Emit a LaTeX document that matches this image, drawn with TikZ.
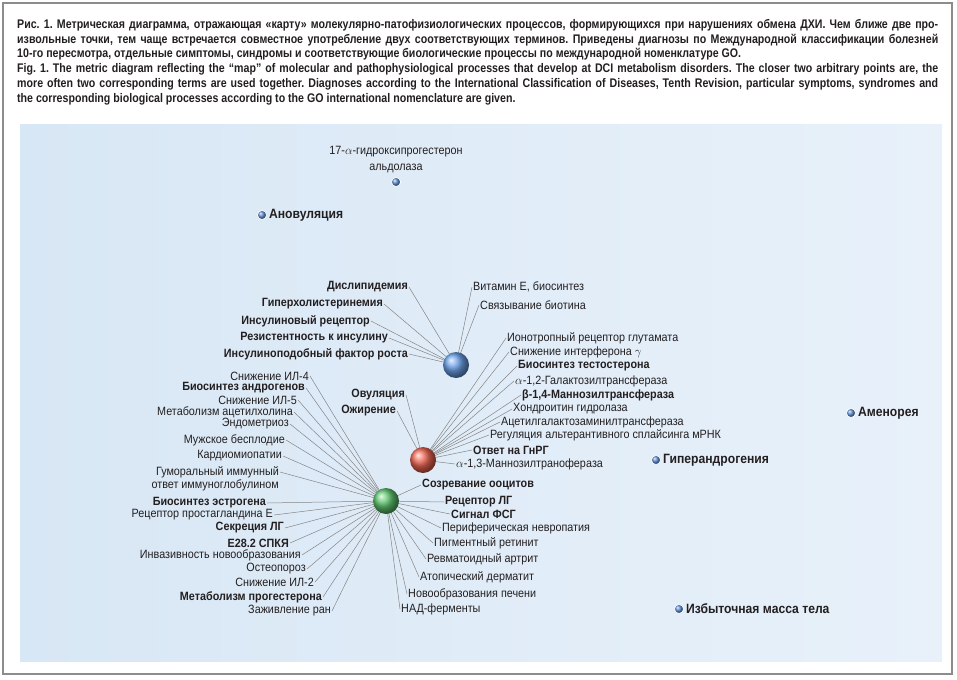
\documentclass[tikz,border=0pt]{standalone}
\usepackage{fontspec}
\setmainfont[FakeStretch=0.9]{Liberation Sans}
\newfontfamily\legendfont[FakeStretch=0.85]{Liberation Sans}
\usetikzlibrary{positioning}
\definecolor{MapInk}{HTML}{231F20}
\definecolor{MapLine}{HTML}{858585}
\definecolor{MapFrame}{HTML}{8C8C8C}
\definecolor{PanelLeft}{HTML}{D8E7F5}
\definecolor{PanelRight}{HTML}{E8F1FA}
\definecolor{HubBlue}{HTML}{6CA2EA}
\definecolor{HubRed}{HTML}{F06654}
\definecolor{HubGreen}{HTML}{5FC770}
\definecolor{DotBlue}{HTML}{5A8CD2}
\frenchspacing

\begin{document}
\begin{tikzpicture}[x=1pt, y=-1pt, every node/.style={text=MapInk, font=\fontsize{12}{14}\selectfont},
  term/.style={inner sep=1pt},
  key/.style={inner sep=1pt, font=\fontsize{12}{14}\selectfont\bfseries},
  finding/.style={inner sep=1pt, font=\fontsize{13.5}{16}\selectfont\bfseries},
  legend/.style={text width=921pt, align=justify, inner sep=0pt, font=\legendfont\bfseries\fontsize{12.5}{14.8}\selectfont},
  hub/.style={circle, minimum size=26pt, inner sep=0pt, shading=ball, ball color=#1},
  dot/.style={circle, minimum size=9pt, inner sep=0pt, shading=ball, ball color=DotBlue, draw=white, line width=0.7pt},
  link/.style={draw=MapLine, line width=0.5pt}]
\useasboundingbox (0,0) rectangle (957,679);
\draw[MapFrame, line width=1.4pt, fill=white] (3,3) rectangle (952,674);
\shade[left color=PanelLeft, right color=PanelRight] (20,125) rectangle (942,661);

% caption
\node[legend, anchor=north west] (capru) at (17,19) {\frenchspacing Рис. 1. Метрическая диаграмма, отражающая «карту» молекулярно-патофизиологических процессов, формирующихся при нарушениях обмена ДХИ. Чем ближе две про-\linebreak извольные точки, тем чаще встречается совместное употребление двух соответствующих терминов. Приведены диагнозы по Международной классификации болезней\linebreak 10-го пересмотра, отдельные симптомы, синдромы и соответствующие биологические процессы по международной номенклатуре GO.};
\node[legend, anchor=north west] (capen) at (17,63.5) {\frenchspacing Fig. 1. The metric diagram reflecting the “map” of molecular and pathophysiological processes that develop at DCI metabolism disorders. The closer two arbitrary points are, the\linebreak more often two corresponding terms are used together. Diagnoses according to the International Classification of Diseases, Tenth Revision, particular symptoms, syndromes and\linebreak the corresponding biological processes according to the GO international nomenclature are given.};

% hub positions
\coordinate (blue) at (456,365);
\coordinate (red) at (423,460);
\coordinate (green) at (386,501);

% single points
\node[dot] (hydroxy) at (396,182) {};
\node[term, align=center, above=3pt of hydroxy, font=\fontsize{12}{16}\selectfont] (hydroxylbl) {17-$\alpha$-гидроксипрогестерон\\альдолаза};
\node[dot] (anov) at (262,215) {};
\node[finding, right=1pt of anov] (anovlbl) {Ановуляция};
\node[dot] (amen) at (851,413) {};
\node[finding, right=1pt of amen] (amenlbl) {Аменорея};
\node[dot] (hyperand) at (656,460) {};
\node[finding, right=1pt of hyperand] (hyperandlbl) {Гиперандрогения};
\node[dot] (overweight) at (679,609) {};
\node[finding, right=1pt of overweight] (overweightlbl) {Избыточная масса тела};

% blue cluster
\node[key, anchor=east] (dyslip) at (409,287) {Дислипидемия};
\node[key, anchor=east] (hyperchol) at (384,304) {Гиперхолистеринемия};
\node[key, anchor=east] (insrec) at (371,321) {Инсулиновый рецептор};
\node[key, anchor=east] (insres) at (389,338) {Резистентность к инсулину};
\node[key, anchor=east] (igf) at (409,354) {Инсулиноподобный фактор роста};
\node[term, anchor=west] (vite) at (472,287) {Витамин Е, биосинтез};
\node[term, anchor=west] (biotin) at (479,305) {Связывание биотина};
\draw[link] (dyslip.east) -- (blue);
\draw[link] (hyperchol.east) -- (blue);
\draw[link] (insrec.east) -- (blue);
\draw[link] (insres.east) -- (blue);
\draw[link] (igf.east) -- (blue);
\draw[link] (vite.west) -- (blue);
\draw[link] (biotin.west) -- (blue);

% red cluster
\node[key, anchor=east] (ovul) at (406,395) {Овуляция};
\node[key, anchor=east] (obes) at (397,411) {Ожирение};
\node[term, anchor=west] (glut) at (506,338) {Ионотропный рецептор глутамата};
\node[term, anchor=west] (ifng) at (509,352) {Снижение интерферона $\gamma$};
\node[key, anchor=west] (testo) at (517,366) {Биосинтез тестостерона};
\node[term, anchor=west] (galact) at (514,381) {$\alpha$-1,2-Галактозилтрансфераза};
\node[key, anchor=west] (mannob) at (521,395) {β-1,4-Маннозилтрансфераза};
\node[term, anchor=west] (chondro) at (512,409) {Хондроитин гидролаза};
\node[term, anchor=west] (acetyl) at (500,422) {Ацетилгалактозаминилтрансфераза};
\node[term, anchor=west] (splice) at (489,435) {Регуляция альтерантивного сплайсинга мРНК};
\node[key, anchor=west] (gnrh) at (472,450) {Ответ на ГнРГ};
\node[term, anchor=west] (mannoa) at (455,464) {$\alpha$-1,3-Маннозилтраноферaза};
\draw[link] (ovul.east) -- (red);
\draw[link] (obes.east) -- (red);
\draw[link] (glut.west) -- (red);
\draw[link] (ifng.west) -- (red);
\draw[link] (testo.west) -- (red);
\draw[link] (galact.west) -- (red);
\draw[link] (mannob.west) -- (red);
\draw[link] (chondro.west) -- (red);
\draw[link] (acetyl.west) -- (red);
\draw[link] (splice.west) -- (red);
\draw[link] (gnrh.west) -- (red);
\draw[link] (mannoa.west) -- (red);

% green cluster
\node[term, anchor=east] (il4) at (310,376) {Снижение ИЛ-4};
\node[key, anchor=east] (androg) at (306,388) {Биосинтез андрогенов};
\node[term, anchor=east] (il5) at (298,400) {Снижение ИЛ-5};
\node[term, anchor=east] (acetylch) at (294,412) {Метаболизм ацетилхолина};
\node[term, anchor=east] (endomet) at (290,424) {Эндометриоз};
\node[term, anchor=east] (infert) at (286,440) {Мужское бесплодие};
\node[term, anchor=east] (cardio) at (283,456) {Кардиомиопатии};
\node[term, anchor=east] (humoral) at (280,472) {Гуморальный иммунный};
\node[term, anchor=north east] (humoralb) at (humoral.south east) {ответ иммуноглобулином};
\node[key, anchor=east] (estrog) at (267,503) {Биосинтез эстрогена};
\node[term, anchor=east] (pgerec) at (274,515) {Рецептор простагландина Е};
\node[key, anchor=east] (lhsecr) at (285,528) {Секреция ЛГ};
\node[key, anchor=east] (pcos) at (290,543) {Е28.2 СПКЯ};
\node[term, anchor=east] (invas) at (302,555) {Инвазивность новообразования};
\node[term, anchor=east] (osteo) at (307,569) {Остеопороз};
\node[term, anchor=east] (il2) at (315,582) {Снижение ИЛ-2};
\node[key, anchor=east] (progest) at (323,597) {Метаболизм прогестерона};
\node[term, anchor=east] (wound) at (332,611) {Заживление ран};
\node[key, anchor=west] (oocyte) at (421,485) {Созревание ооцитов};
\node[key, anchor=west] (lhrec) at (444,502) {Рецептор ЛГ};
\node[key, anchor=west] (fsh) at (450,514) {Сигнал ФСГ};
\node[term, anchor=west] (neuro) at (441,528) {Периферическая невропатия};
\node[term, anchor=west] (retin) at (433,543) {Пигментный ретинит};
\node[term, anchor=west] (rheum) at (426,559) {Ревматоидный артрит};
\node[term, anchor=west] (atopic) at (419,577) {Атопический дерматит};
\node[term, anchor=west] (liver) at (407,594) {Новообразования печени};
\node[term, anchor=west] (nad) at (400,609) {НАД-ферменты};
\draw[link] (il4.east) -- (green);
\draw[link] (androg.east) -- (green);
\draw[link] (il5.east) -- (green);
\draw[link] (acetylch.east) -- (green);
\draw[link] (endomet.east) -- (green);
\draw[link] (infert.east) -- (green);
\draw[link] (cardio.east) -- (green);
\draw[link] (humoral.east) -- (green);
\draw[link] (estrog.east) -- (green);
\draw[link] (pgerec.east) -- (green);
\draw[link] (lhsecr.east) -- (green);
\draw[link] (pcos.east) -- (green);
\draw[link] (invas.east) -- (green);
\draw[link] (osteo.east) -- (green);
\draw[link] (il2.east) -- (green);
\draw[link] (progest.east) -- (green);
\draw[link] (wound.east) -- (green);
\draw[link] (oocyte.west) -- (green);
\draw[link] (lhrec.west) -- (green);
\draw[link] (fsh.west) -- (green);
\draw[link] (neuro.west) -- (green);
\draw[link] (retin.west) -- (green);
\draw[link] (rheum.west) -- (green);
\draw[link] (atopic.west) -- (green);
\draw[link] (liver.west) -- (green);
\draw[link] (nad.west) -- (green);

% hubs on top of the links
\node[hub=HubBlue] (bluehub) at (blue) {};
\node[hub=HubRed] (redhub) at (red) {};
\node[hub=HubGreen] (greenhub) at (green) {};
\end{tikzpicture}
\end{document}
